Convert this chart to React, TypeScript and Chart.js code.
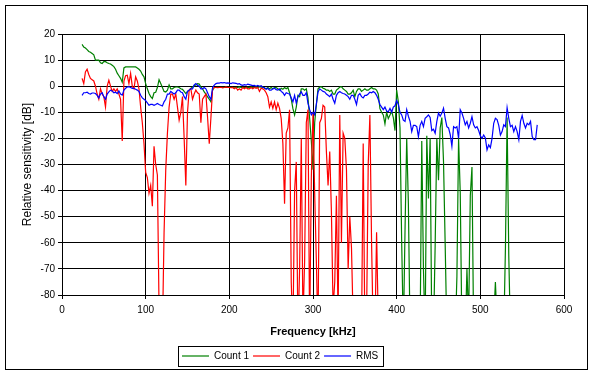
import React, { useEffect, useRef } from "react";
import { Chart, registerables } from "chart.js";

Chart.register(...registerables);

// Frequency grid [kHz]
const frequencies = [
  20, 22, 24, 26, 28, 30, 32, 34, 36, 38,
  40, 42, 44, 46, 48, 50, 52, 54, 56, 58,
  60, 62, 64, 66, 68, 70, 72, 74, 76, 78,
  80, 82, 84, 86, 88, 90, 92, 94, 96, 98,
  100, 102, 104, 106, 108, 110, 112, 114, 116, 118,
  120, 122, 124, 126, 128, 130, 132, 134, 136, 138,
  140, 142, 144, 146, 148, 150, 152, 154, 156, 158,
  160, 162, 164, 166, 168, 170, 172, 174, 176, 178,
  180, 182, 184, 186, 188, 190, 192, 194, 196, 198,
  200, 202, 204, 206, 208, 210, 212, 214, 216, 218,
  220, 222, 224, 226, 228, 230, 232, 234, 236, 238,
  240, 242, 244, 246, 248, 250, 252, 254, 256, 258,
  260, 262, 264, 266, 268, 270, 272, 274, 276, 278,
  280, 282, 284, 286, 288, 290, 292, 294, 296, 298,
  300, 302, 304, 306, 308, 310, 312, 314, 316, 318,
  320, 322, 324, 326, 328, 330, 332, 334, 336, 338,
  340, 342, 344, 346, 348, 350, 352, 354, 356, 358,
  360, 362, 364, 366, 368, 370, 372, 374, 376, 378,
  380, 382, 384, 386, 388, 390, 392, 394, 396, 398,
  400, 402, 404, 406, 408, 410, 412, 414, 416, 418,
  420, 422, 424, 426, 428, 430, 432, 434, 436, 438,
  440, 442, 444, 446, 448, 450, 452, 454, 456, 458,
  460, 462, 464, 466, 468, 470, 472, 474, 476, 478,
  480, 482, 484, 486, 488, 490, 492, 494, 496, 498,
  500, 502, 504, 506, 508, 510, 512, 514, 516, 518,
  520, 522, 524, 526, 528, 530, 532, 534, 536, 538,
  540, 542, 544, 546, 548, 550, 552, 554, 556, 558,
  560, 562, 564, 566, 568, 570,
];

// Count 1 (green) [dB]
const count1 = [
  null, null, 16, 15, 14.6, 14, 13.3, 13, 12.5, 12,
  10, 10, 10, 9, 8.7, 9.4, 9.4, 9, 8.7, 8.5,
  8, 7.5, 6.5, 5, 4, 3, 1.5, 7, 7.4, 7.4,
  7.4, 7.4, 7.4, 7.4, 7.4, 7, 6.5, 5.8, 4.5, 3.6,
  1, -1, -2.8, -4, -4.7, -2.5, -2.3, -0.5, 2.5, 1,
  -0.5, -2, -2.2, -1.5, 0.5, -1, -1, -0.5, -0.3, -0.3,
  -0.5, -1, -1.2, -2, -2.8, -2, -1.5, -0.8, -0.3, 0.2,
  0.5, 1, 0.8, -0.3, -1, -2.2, -3, -4.1, -5, -6,
  -1.5, -0.5, -0.5, -0.4, -0.5, -0.5, -0.4, -0.5, -0.5, -0.4,
  -0.5, -0.4, -0.5, -0.6, -0.4, -0.5, -0.3, -0.5, -0.4, -0.5,
  -0.5, -0.4, -0.6, -0.3, -0.5, -0.4, -0.3, -0.5, -0.2, -0.4,
  -0.3, -0.8, -1, -0.5, -1, -0.5, -1, -0.5, -0.5, -1,
  -1.5, -0.8, -1.2, -0.5, -1, -0.5, -2.5, -5, -8.6, -11,
  -8, -3.5, -4, -1, -1, -1.5, -1, -4.5, -12.4, -21,
  -32, -14, -7, -1, -0.3, -0.2, -0.8, -1, -1.5, -1.5,
  -2, -1.5, -3, -3, -1.5, -1, -0.3, -0.2, -1, -1.5,
  -2, -3, -3, -2.5, -1.5, -4, -2, -1, -1, -2,
  -1.5, -1, -1.5, -1.5, -1, -0.5, -1, -1, -1.5, -3,
  -8.6, -10, -11, -14.4, -10, -12.4, -11, -9.5, -12, -17,
  -1.5, -6, -16, -60, -95, -55, -20, -45, -95, -95,
  -95, -95, -95, -95, -95, -21, -70, -95, -19, -43,
  -20, -95, -95, -61, -20, -36, -16, -12, -29, -61,
  -95, -95, -95, -95, -95, -95, -73, -20, -41, -95,
  -95, -95, -70, -90, -42, -31, -95, -95, -95, -95,
  -95, -95, -95, -95, -95, -95, -95, -95, -90, -75,
  -90, -95, -95, -95, -95, -62, -12, -65, -95, null,
  null, null, null, null, null, null, null, null, null, null,
  null, null, null, null, null, null,
];

// Count 2 (red) [dB]
const count2 = [
  null, null, 3, 1, 5.5, 6.5, 4.5, 3, 2.5, 2,
  0, -3, -5, -1, -3, -4, -8, 0, 2.3, 0,
  -2, -1, -2, -1, -3, -5, -21, 2, 4, 4.2,
  1, 4.9, 0, -1, 3.6, 2, -1, -8, -14, -22,
  -33, -35, -41, -38, -46, -23, -30, -34, -85, -95,
  -95, -56, -32, -18, -8, -3, -3, -5, -3, -8,
  -13, -10, -4, -20, -38, -10, -1.5, -1, -5, -3,
  -1.5, -2.5, -3, -14, -5, -4, -3, -12, -22, -12,
  -1, -0.5, -0.5, -0.6, -0.5, -0.4, -0.6, -0.5, -0.3, -0.5,
  -0.5, -0.6, -0.5, -1, -0.5, -1.5, -1, -1.5, -0.5, -1,
  -0.5, -1, -1, -0.5, -1, -0.5, -0.8, -0.5, -2, -0.8,
  -1, -1.5, -2.5, -4, -8, -6, -8.5, -6, -9, -6.5,
  -8.5, -12.4, -22, -45, -18, -16, -9, -75, -95, -40,
  -29, -95, -70, -20, -90, -67, -14, -9, -95, -35,
  -10, -41, -67, -95, -14, -12.4, -7.3, -8, -25, -38,
  -25, -48, -85, -75, -42, -90, -11, -60, -18, -20,
  -32, -70, -50, -62, -90, -95, -95, -95, -95, -95,
  -22, -95, -90, -30, -11, -60, -95, -95, -56, -90,
  null, null, null, null, null, null, null, null, null, null,
  null, null, null, null, null, null, null, null, null, null,
  null, null, null, null, null, null, null, null, null, null,
  null, null, null, null, null, null, null, null, null, null,
  null, null, null, null, null, null, null, null, null, null,
  null, null, null, null, null, null, null, null, null, null,
  null, null, null, null, null, null, null, null, null, null,
  null, null, null, null, null, null, null, null, null, null,
  null, null, null, null, null, null, null, null, null, null,
  null, null, null, null, null, null,
];

// RMS (blue) [dB]
const rms = [
  null, null, -3.5, -2.5, -2.5, -2.3, -2.8, -3, -2.6, -2.6,
  -2.8, -3.5, -4.5, -3, -2.5, -4, -5, -3, -2.2, -1.5,
  -1.8, -2.5, -2.3, -2.8, -1.8, -3, -3.4, -1.5, -0.8, -0.3,
  -0.2, -0.5, -0.8, -0.8, -1.2, -1.5, -2, -3.5, -4.5, -5,
  -5.5, -6.4, -7.3, -7, -7, -7.3, -7, -6.6, -7, -7.3,
  -7.6, -6, -5, -3, -3, -2, -2.5, -3, -2.5, -1.5,
  -1.5, -2.2, -2.5, -4, -5, -2, -1.5, -1, -1, 0.5,
  1, 0.3, 0, -1, -1, -0.5, -1, -2.5, -4, -5,
  -0.5, 0.4, 1, 1.2, 1.2, 1.4, 1.3, 1.4, 1.2, 1.3,
  1.2, 1, 1.3, 1.2, 1.1, 0.8, 1, 0.5, 0.3, 0.6,
  0.4, 0.8, 0.6, 0.4, 0.2, 0.3, 0, 0.3, 0, 0.2,
  -0.5, -0.5, -1.2, -0.8, -1.5, -1.5, -1, -0.8, -1.3, -1.5,
  -1, -2, -2.5, -3.5, -2.5, -2.8, -3, -4.5, -6, -3.5,
  -6.5, -4, -3, -2.2, -3.5, -3.5, -2.5, -6.6, -9, -11,
  -10, -11, -7, -2.2, -1, -1.5, -2, -2.2, -3, -3.5,
  -4, -3, -5, -6.5, -3.5, -2.5, -2, -2.5, -2.8, -3,
  -3.5, -4, -5, -3.5, -3.5, -5, -7, -3.5, -2.8, -4,
  -4.5, -3.5, -3.5, -3, -2.3, -2.5, -2, -2.5, -3.5, -5,
  -7, -8, -9, -8, -9.5, -9.8, -8.5, -10, -8, -7.5,
  -5.5, -7, -10, -11, -13, -13.5, -9, -11.5, -13.5, -17.4,
  -15, -15, -15.5, -19.3, -15, -13.5, -15.5, -12.3, -11.7, -11,
  -12, -17, -16.5, -18, -13.5, -10.3, -11.5, -10.3, -8.4, -12.3,
  -15.5, -16, -18.5, -23, -15.5, -16, -15.5, -20, -9, -10.3,
  -12.3, -14.8, -13.5, -16, -14.2, -11.7, -14.8, -16, -15.5, -17,
  -19, -20, -18.7, -19.8, -24.4, -22.5, -23.5, -20, -14.2, -12.3,
  -12.8, -15, -18.7, -17.4, -14.8, -15.5, -8.2, -12.3, -15.5, -15,
  -17.4, -15.5, -17.4, -20.5, -13.5, -11.2, -14.2, -16, -14.2, -14.8,
  -13.5, -19.3, -20.5, -20.5, -14.8, null,
];

const seriesNames = ["Count 1", "Count 2", "RMS"];
const seriesColors = ["#008000", "#FF0000", "#0000FF"];
const xMin = 0;
const xMax = 600;
const xStep = 100;
const yMin = -80;
const yMax = 20;
const yStep = 10;

const FONT = 'Arial, "Liberation Sans", sans-serif';

const toPoints = (vals: (number | null)[]) =>
  frequencies.map((f, i) => ({ x: f, y: vals[i] }));

const framePlugin = {
  id: "excelFrame",
  beforeDraw(chart: any) {
    const lg = chart.legend;
    if (lg) {
      lg.left = 178;
      lg.top = 347;
    }
  },
  afterDraw(chart: any) {
    const ctx = chart.ctx;
    ctx.save();
    ctx.strokeStyle = "#000";
    ctx.lineWidth = 1;
    ctx.strokeRect(5.5, 5.5, 582, 364);
    ctx.strokeRect(178.5, 346.5, 205, 20);
    ctx.restore();
  },
};

export default function App() {
  const canvasRef = useRef<HTMLCanvasElement | null>(null);

  useEffect(() => {
    if (!canvasRef.current) return;
    Chart.defaults.font.family = FONT;
    Chart.defaults.font.size = 10;
    Chart.defaults.color = "#000";
    const allSeries = [count1, count2, rms];
    const chart = new Chart(canvasRef.current, {
      type: "line",
      data: {
        datasets: allSeries.map((vals, i) => ({
          label: seriesNames[i],
          data: toPoints(vals),
          borderColor: seriesColors[i],
          backgroundColor: seriesColors[i],
          borderWidth: 1.2,
          pointRadius: 0,
          tension: 0,
          fill: false,
          spanGaps: false,
          order: 3 - i,
        })),
      },
      options: {
        animation: false,
        responsive: false,
        devicePixelRatio: 1,
        layout: { padding: { left: 0, top: 34, right: 30, bottom: 0 } },
        plugins: {
          tooltip: { enabled: false },
          legend: {
            display: true,
            position: "bottom",
            align: "start",
            labels: {
              usePointStyle: true,
              pointStyle: "line",
              pointStyleWidth: 27,
              padding: 4,
              color: "#000",
              font: { family: FONT, size: 10 },
              sort: (a: any, b: any) => a.datasetIndex - b.datasetIndex,
            },
          },
        },
        scales: {
          x: {
            type: "linear",
            min: xMin,
            max: xMax,
            afterFit: (s: any) => {
              s.height = 56;
            },
            ticks: { stepSize: xStep, padding: 5, color: "#000", font: { family: FONT, size: 10 } },
            grid: { color: "#000", lineWidth: 1, tickLength: 4, drawTicks: true },
            border: { display: true, color: "#000", width: 1 },
            title: {
              display: true,
              text: "Frequency [kHz]",
              color: "#000",
              font: { family: FONT, size: 11, weight: "bold" },
              padding: { top: 0, bottom: 12 },
            },
          },
          y: {
            type: "linear",
            min: yMin,
            max: yMax,
            afterFit: (s: any) => {
              s.width = 62;
            },
            ticks: { stepSize: yStep, padding: 3, color: "#000", font: { family: FONT, size: 10 } },
            grid: { color: "#000", lineWidth: 1, tickLength: 4, drawTicks: true },
            border: { display: true, color: "#000", width: 1 },
            title: {
              display: true,
              text: "Relative sensitivity [dB]",
              color: "#000",
              font: { family: FONT, size: 12 },
              padding: { top: 20, bottom: 0 },
            },
          },
        },
      },
      plugins: [framePlugin],
    } as any);
    return () => chart.destroy();
  }, []);

  return (
    <div style={{ position: "absolute", left: 0, top: 0, width: 594, height: 375, background: "#fff" }}>
      <canvas ref={canvasRef} width={594} height={375} style={{ display: "block" }} />
    </div>
  );
}
